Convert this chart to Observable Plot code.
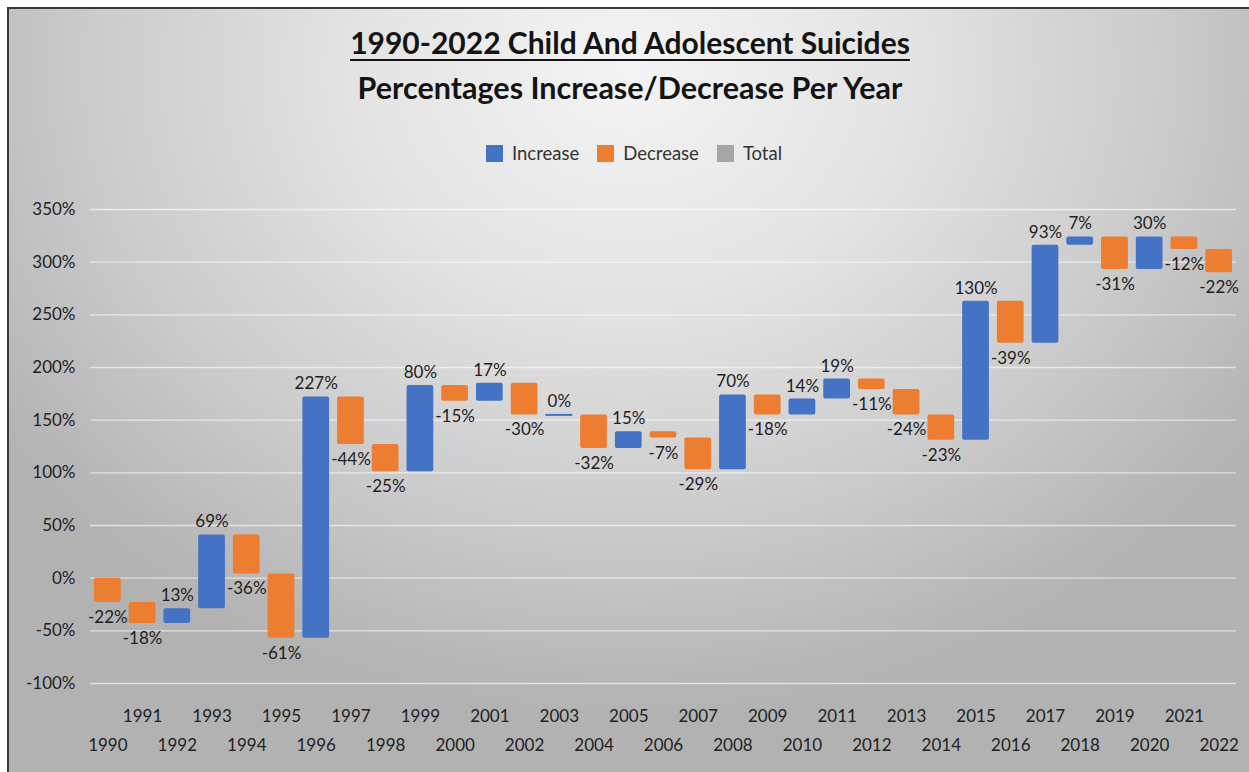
<!DOCTYPE html>
<html><head><meta charset="utf-8">
<script src="https://cdn.jsdelivr.net/npm/d3@7"></script>
<script src="https://cdn.jsdelivr.net/npm/@observablehq/plot@0.6"></script>
<style>
html,body{margin:0;padding:0;background:#fff;width:1249px;height:772px;overflow:hidden;font-family:Lato,"Open Sans",sans-serif;}
#bg{position:absolute;left:7px;top:7px;width:1242px;height:765px;border-left:2px solid #3a3a3a;border-top:2px solid #3a3a3a;box-sizing:border-box;
 background:radial-gradient(ellipse 62% 85% at 50% 8%, #f4f4f4 0%, #e4e4e4 35%, #cbcbcb 70%, #b2b2b2 100%);}
.t{position:absolute;left:0;width:1260px;text-align:center;font-weight:bold;color:#141414;white-space:nowrap;}
#title{top:24px;font-size:30px;text-decoration:underline;text-decoration-thickness:2px;text-underline-offset:5px;}
#subtitle{top:69px;font-size:30.5px;}
#legend{position:absolute;left:0;width:1268px;top:142px;display:flex;justify-content:center;gap:18px;font-size:18.5px;color:#333;}
#legend span.i{display:flex;align-items:center;}
#legend span.sw{display:inline-block;width:17px;height:17px;margin-right:9px;}
#chart{position:absolute;left:0;top:190px;}
</style></head>
<body>
<div id="bg"></div>
<div class="t" id="title">1990-2022 Child And Adolescent Suicides</div>
<div class="t" id="subtitle">Percentages Increase/Decrease Per Year</div>
<div id="legend"></div>
<div id="chart"></div>
<script>
const years = ["1990","1991","1992","1993","1994","1995","1996","1997","1998","1999","2000","2001","2002","2003","2004","2005","2006","2007","2008","2009","2010","2011","2012","2013","2014","2015","2016","2017","2018","2019","2020","2021","2022"];
// labelled percentage change per year
const changes = [-22,-18,13,69,-36,-61,227,-44,-25,80,-15,17,-30,0,-32,15,-7,-29,70,-18,14,19,-11,-24,-23,130,-39,93,7,-31,30,-12,-22];
// running level at the end of each year's step
const ends = [-23,-43,-29,41,4,-57,172,127,101,183,168,185,155,155,123,139,133,103,174,155,170,189,179,155,131,263,223,316,324,293,324,312,290];
const legendItems = ["Increase","Decrease","Total"];
const legendColors = ["#4472C4","#ED7D31","#A5A5A5"];
const yTicks = [-100,-50,0,50,100,150,200,250,300,350];

const data = years.map((y,i)=>({
  year:y, change:changes[i], start: i===0?0:ends[i-1], end:ends[i],
  type: changes[i] >= 0 ? "Increase" : "Decrease"
}));
const lg = document.getElementById("legend");
legendItems.forEach((n,i)=>{
  const s=document.createElement("span");s.className="i";
  s.innerHTML=`<span class="sw" style="background:${legendColors[i]}"></span>${n}`;
  lg.appendChild(s);
});

const odd = years.filter((d,i)=>i%2===1);
const even = years.filter((d,i)=>i%2===0);
const fmt = d => d + "%";

const plot = Plot.plot({
  width:1249, height:582,
  marginLeft:90, marginRight:13, marginTop:19, marginBottom:89,
  style:{background:"transparent", fontFamily:"Lato, sans-serif", fontSize:"17px", color:"#222"},
  x:{domain:years, paddingInner:0.23, paddingOuter:0.115, round:false, axis:null},
  y:{domain:[-100,350], ticks:yTicks, tickFormat:fmt, label:null},
  color:{domain:legendItems, range:legendColors},
  marks:[
    Plot.gridY(yTicks,{stroke:"#ffffff", strokeOpacity:0.6, strokeWidth:1.3}),
    Plot.axisY(yTicks,{tickSize:0, tickPadding:15, tickFormat:fmt, label:null, fontSize:17, fill:"#222"}),
    Plot.barY(data.filter(d=>d.change!==0),{x:"year", y1:"start", y2:"end", fill:"type", rx:2}),
    Plot.tickY(data.filter(d=>d.change===0),{x:"year", y:"end", stroke:"#4472C4", strokeWidth:2}),
    Plot.text(data.filter(d=>d.change>=0),{x:"year", y:d=>Math.max(d.start,d.end), text:d=>fmt(d.change), dy:-13, fill:"#1e1e1e", fontSize:17}),
    Plot.text(data.filter(d=>d.change<0),{x:"year", y:d=>Math.min(d.start,d.end), text:d=>fmt(d.change), dy:15, fill:"#1e1e1e", fontSize:17}),
    Plot.text(odd,{x:d=>d, frameAnchor:"bottom", dy:38, text:d=>d, fill:"#222", fontSize:17}),
    Plot.text(even,{x:d=>d, frameAnchor:"bottom", dy:67, text:d=>d, fill:"#222", fontSize:17})
  ]
});
document.getElementById("chart").appendChild(plot);
</script>
</body></html>
